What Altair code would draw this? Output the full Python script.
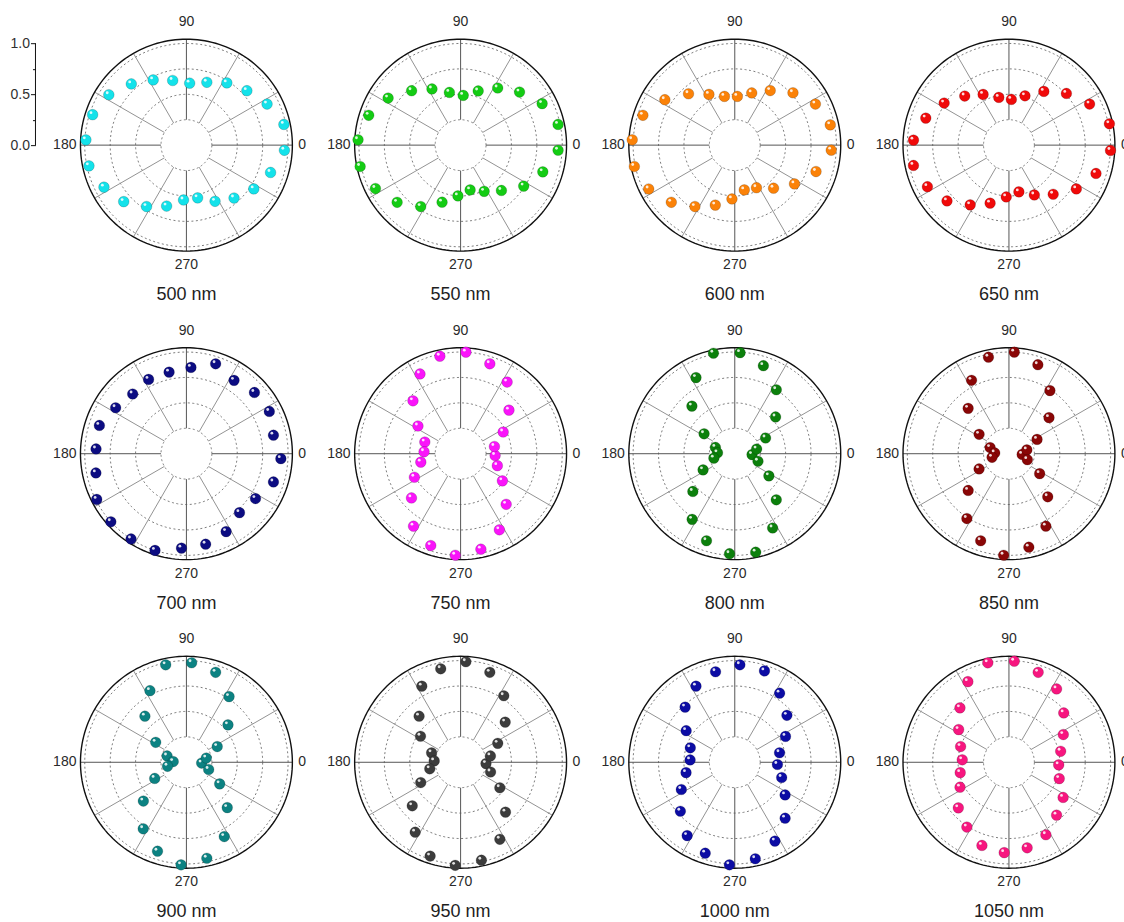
import altair as alt
import pandas as pd

# Polarisation angle of every measurement (degrees)
ANGLES = [357, 12, 27, 42, 57, 72, 87, 102, 117, 132, 147, 162,
          177, 192, 207, 222, 237, 252, 267, 282, 297, 312, 327, 342]

WAVELENGTHS = [500, 550, 600, 650, 700, 750, 800, 850, 900, 950, 1000, 1050]
COLORS = ["#14E2EA", "#14CC14", "#FB8208", "#F00A0A", "#0C0C82", "#FA14FA",
          "#0C800C", "#8A0606", "#0C8282", "#3C3C3C", "#0C0CA4", "#F7167F"]

# Normalised intensity at each angle, one list per wavelength
R500 = [0.965, 0.98, 0.89, 0.80, 0.73, 0.65, 0.61, 0.65, 0.72, 0.81, 0.91, 0.97,
        0.99, 0.98, 0.91, 0.83, 0.72, 0.63, 0.54, 0.53, 0.62, 0.70, 0.79, 0.87]
R550 = [0.96, 0.98, 0.90, 0.78, 0.67, 0.56, 0.49, 0.53, 0.62, 0.72, 0.85, 0.95,
        1.01, 1.01, 0.94, 0.84, 0.72, 0.59, 0.50, 0.45, 0.51, 0.60, 0.74, 0.85]
R600 = [0.95, 0.96, 0.89, 0.77, 0.64, 0.54, 0.48, 0.49, 0.56, 0.68, 0.82, 0.95,
        1.01, 1.01, 0.95, 0.84, 0.72, 0.62, 0.53, 0.45, 0.47, 0.57, 0.70, 0.84]
R650 = [1.00, 1.01, 0.89, 0.76, 0.63, 0.51, 0.45, 0.48, 0.56, 0.65, 0.76, 0.86,
        0.94, 0.96, 0.90, 0.82, 0.70, 0.60, 0.51, 0.47, 0.55, 0.65, 0.79, 0.90]
R700 = [0.93, 0.875, 0.915, 0.90, 0.86, 0.93, 0.85, 0.82, 0.82, 0.79, 0.83, 0.90,
        0.89, 0.91, 0.99, 1.00, 1.00, 1.00, 0.93, 0.91, 0.86, 0.78, 0.81, 0.90]
R750 = [0.34, 0.34, 0.47, 0.64, 0.84, 0.93, 1.00, 0.98, 0.88, 0.70, 0.50, 0.37,
        0.36, 0.40, 0.51, 0.65, 0.85, 0.95, 1.00, 0.96, 0.84, 0.67, 0.49, 0.38]
R800 = [0.17, 0.22, 0.34, 0.54, 0.75, 0.91, 0.995, 1.01, 0.84, 0.63, 0.36, 0.20,
        0.17, 0.21, 0.35, 0.555, 0.77, 0.90, 0.985, 0.99, 0.82, 0.61, 0.40, 0.24]
R850 = [0.13, 0.18, 0.31, 0.53, 0.74, 0.92, 1.00, 0.97, 0.81, 0.60, 0.35, 0.195,
        0.14, 0.17, 0.33, 0.54, 0.76, 0.90, 1.00, 0.94, 0.80, 0.57, 0.36, 0.19]
R900 = [0.15, 0.20, 0.34, 0.55, 0.77, 0.93, 0.98, 0.98, 0.79, 0.61, 0.36, 0.20,
        0.13, 0.19, 0.35, 0.57, 0.78, 0.92, 1.01, 0.965, 0.82, 0.60, 0.39, 0.23]
R950 = [0.25, 0.30, 0.41, 0.59, 0.78, 0.93, 0.99, 0.94, 0.84, 0.61, 0.47, 0.30,
        0.26, 0.31, 0.44, 0.64, 0.82, 0.97, 1.015, 0.985, 0.85, 0.66, 0.46, 0.31]
R1000 = [0.42, 0.45, 0.56, 0.69, 0.81, 0.945, 0.96, 0.91, 0.84, 0.73, 0.57, 0.46,
         0.44, 0.49, 0.59, 0.72, 0.86, 0.94, 1.01, 0.97, 0.87, 0.74, 0.59, 0.485]
R1050 = [0.49, 0.52, 0.60, 0.725, 0.86, 0.93, 0.995, 1.00, 0.89, 0.72, 0.59, 0.50,
         0.46, 0.49, 0.54, 0.67, 0.76, 0.86, 0.89, 0.86, 0.80, 0.70, 0.635, 0.52]

PROFILES = [R500, R550, R600, R650, R700, R750, R800, R850, R900, R950, R1000, R1050]

# Polar frame
GRID_RINGS = [0.25, 0.5, 0.75, 1.0]
SPOKES = [0, 30, 60, 90, 120, 150, 180, 210, 240, 270, 300, 330]
ANGLE_TICKS = [0, 90, 180, 270]
RADIAL_TICKS = [0, 0.25, 0.5, 0.75, 1.0]
RIM = 1.042
HOLE = 0.25
PANEL = 212
FONT = "Liberation Sans"

ring_df = pd.DataFrame(
    [{"ring": r, "angle": a} for r in GRID_RINGS for a in range(0, 362, 2)]
)
rim_df = pd.DataFrame({"ring": RIM, "angle": list(range(0, 362, 2))})
spoke_df = pd.DataFrame({"angle": SPOKES})
tick_df = pd.DataFrame({"angle": ANGLE_TICKS, "label": [str(a) for a in ANGLE_TICKS]})

scale = alt.Scale(domain=[-RIM, RIM], nice=False, zero=False)
X = alt.X("x:Q", scale=scale, axis=None)

# radial intensity scale, drawn to the left of the first polar plot only
radial_axis = alt.Axis(
    values=RADIAL_TICKS,
    offset=45,
    domain=False,
    grid=False,
    title=None,
    tickColor="#111111",
    tickWidth=1,
    tickSize={"condition": {"test": "datum.value % 0.5 === 0", "value": 5}, "value": 3},
    labelExpr="datum.value % 0.5 === 0 ? format(datum.value, '.1f') : ''",
    labelFont=FONT,
    labelFontSize=14,
    labelColor="#303030",
    labelPadding=1,
)


def polar(chart, radius):
    return chart.transform_calculate(
        x=f"{radius} * cos(datum.angle * PI / 180)",
        y=f"{radius} * sin(datum.angle * PI / 180)",
    )


def frame_layers(Y):
    rings = polar(alt.Chart(ring_df), "datum.ring").mark_line(
        color="#6e6e6e", strokeDash=[2, 2.5], strokeWidth=0.9
    ).encode(X, Y, detail="ring:N", order="angle:Q")

    rim = polar(alt.Chart(rim_df), "datum.ring").mark_line(
        color="#111111", strokeWidth=1.4
    ).encode(X, Y, order="angle:Q")

    def spokes(test, color):
        return alt.Chart(spoke_df).transform_filter(test).transform_calculate(
            x=f"{HOLE} * cos(datum.angle * PI / 180)",
            y=f"{HOLE} * sin(datum.angle * PI / 180)",
            x2=f"{RIM} * cos(datum.angle * PI / 180)",
            y2=f"{RIM} * sin(datum.angle * PI / 180)",
        ).mark_rule(color=color, strokeWidth=1).encode(X, Y, x2="x2:Q", y2="y2:Q")

    minor = spokes("datum.angle % 90 != 0", "#939393")
    major = spokes("datum.angle % 90 == 0", "#555555")

    def label(angle, **kw):
        return polar(alt.Chart(tick_df), str(RIM)).transform_filter(
            f"datum.angle == {angle}"
        ).mark_text(font=FONT, fontSize=14, color="#2a2a2a", **kw).encode(
            X, Y, text="label:N"
        )

    labels = [
        label(0, align="left", baseline="middle", dx=6),
        label(90, align="center", baseline="middle", dy=-17),
        label(180, align="right", baseline="middle", dx=-4),
        label(270, align="center", baseline="middle", dy=14),
    ]
    return [rings, minor, major, rim] + labels


def panel(i):
    wl, color, rs = WAVELENGTHS[i], COLORS[i], PROFILES[i]
    pts = pd.DataFrame({"angle": ANGLES, "r": rs})

    Y = alt.Y("y:Q", scale=scale, axis=radial_axis if i == 0 else None)
    extra = []
    if i == 0:
        extra.append(
            alt.Chart(pd.DataFrame({"lo": [0.0], "hi": [1.0]}))
            .mark_rule(color="#111111", strokeWidth=1)
            .encode(x=alt.value(-45), y=alt.Y("lo:Q", scale=scale, axis=radial_axis),
                    y2="hi:Q")
        )

    base = polar(alt.Chart(pts), "datum.r")
    balls = base.mark_circle(
        size=115, color=color, opacity=1, stroke="#000000", strokeOpacity=0.22, strokeWidth=0.8
    ).encode(X, Y)
    shine = base.mark_circle(
        size=8, color="white", opacity=0.85, xOffset=-1.6, yOffset=-2
    ).encode(X, Y)

    return alt.layer(*frame_layers(Y), *extra, balls, shine).properties(
        width=PANEL,
        height=PANEL,
        title=alt.TitleParams(
            f"{wl} nm",
            orient="bottom",
            baseline="middle",
            offset=23,
            font=FONT,
            fontSize=18,
            fontWeight="normal",
            color="#1e1e1e",
        ),
    )


# the right-most "0" labels run a few pixels past the page edge
chart = (
    alt.concat(*[panel(i) for i in range(len(WAVELENGTHS))], columns=4,
               spacing={"row": 96.7, "column": 62.3}, bounds="flush")
    .properties(padding={"left": 9.5, "top": 15, "right": -5, "bottom": 0},
                background="white")
    .configure_view(stroke=None)
)

chart.save("out.html", embed_options={"renderer": "svg", "actions": False})
